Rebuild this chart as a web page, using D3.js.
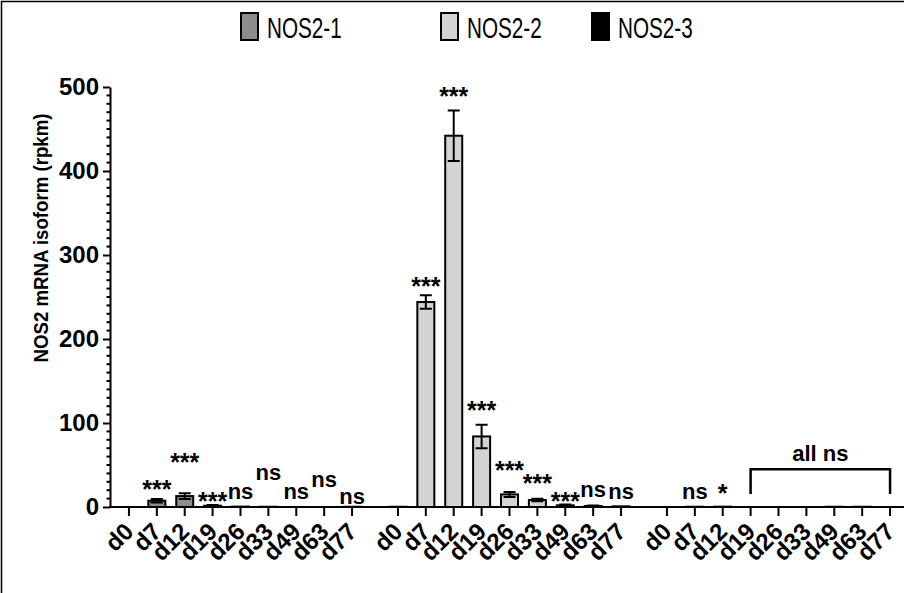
<!DOCTYPE html>
<html><head><meta charset="utf-8">
<script src="https://cdn.jsdelivr.net/npm/d3@7"></script>
<style>
body{margin:0;background:#fff;}
svg{display:block;font-family:"Liberation Sans",Arial,sans-serif;}
</style></head>
<body><svg id="c" width="904" height="593"></svg>
<script>
const groups = ["NOS2-1","NOS2-2","NOS2-3"];
const days = ["d0","d7","d12","d19","d26","d33","d49","d63","d77"];
const yTicks = [0,100,200,300,400,500];
const nos21 = [0, 7.5, 13, 1.5, 0.5, 0.3, 0, 0, 0.3];
const nos21Err = [0, 2, 3.5, 1, 0.3, 0.2, 0, 0, 0.2];
const nos22 = [0.3, 244, 442, 84, 15, 8.3, 2, 1.2, 0.8];
const nos22Err = [0.2, 8, 30, 14, 3, 1.5, 1, 0.6, 0.4];
const nos23 = [0, 0.3, 0.4, 0, 0, 0, 0.3, 0.3, 0];
const nos23Err = [0, 0, 0, 0, 0, 0, 0, 0, 0];
// significance labels and the value level where each label sits
const sig21 = ["", "***", "***", "***", "ns", "ns", "ns", "ns", "ns"];
const sig21Lvl = [0, 10.7, 42.9, -3.2, 9.5, 32, 9.5, 23.8, 3.6];
const sig22 = ["", "***", "***", "***", "***", "***", "***", "ns", "ns"];
const sig22Lvl = [0, 252, 479, 105, 33, 17.9, -3.2, 11.9, 9.5];
const sig23 = ["", "ns", "*", "", "", "", "", "", ""];
const sig23Lvl = [0, 9.5, 6, 0, 0, 0, 0, 0, 0];
const bracketLabel = "all ns";
const bracketFrom = "d19", bracketTo = "d77";
const bracketLvl = [45, 15.5, 54.8]; // bar, leg end, label

const values = [nos21, nos22, nos23];
const errs = [nos21Err, nos22Err, nos23Err];
const sigs = [sig21, sig22, sig23];
const sigLvls = [sig21Lvl, sig22Lvl, sig23Lvl];
const fills = ["#8c8c8c", "#d4d4d4", "#000000"];

const svg = d3.select("#c");
svg.append("path").attr("d","M1.5,593V1.5H904").attr("fill","none").attr("stroke","#000").attr("stroke-width",1.5);

const y = d3.scaleLinear().domain([0,500]).range([507,87]);
const x0 = d3.scaleBand().domain(groups).range([115,904]).paddingInner(18/269);
const x1 = d3.scaleBand().domain(days).range([0, x0.bandwidth()]);
const cx = (g,d) => x0(g) + x1(d) + x1.bandwidth()/2;
const bw = 17;

const data = [];
groups.forEach((g,gi)=>days.forEach((d,di)=>data.push({g,gi,d,di,v:values[gi][di],e:errs[gi][di],s:sigs[gi][di],sl:sigLvls[gi][di]})));

// bars
svg.append("g").selectAll("rect").data(data.filter(o=>o.v>0)).join("rect")
  .attr("x",o=>cx(o.g,o.d)-bw/2).attr("width",bw)
  .attr("y",o=>y(o.v)).attr("height",o=>y(0)-y(o.v))
  .attr("fill",o=>fills[o.gi]).attr("stroke","#000").attr("stroke-width",2);

// error bars
const eg = svg.append("g").attr("stroke","#000").attr("stroke-width",2).attr("fill","none");
data.filter(o=>o.e>0.5).forEach(o=>{
  const X = cx(o.g,o.d);
  eg.append("path").attr("d",`M${X},${y(o.v-o.e)}V${y(o.v+o.e)}M${X-6},${y(o.v+o.e)}H${X+6}M${X-6},${y(o.v-o.e)}H${X+6}`);
});

// y axis
const yAxis = d3.axisLeft(y).tickValues(yTicks).tickSize(7).tickSizeOuter(0).tickPadding(4);
const ya = svg.append("g").attr("transform","translate(110,0)").call(yAxis);
ya.select(".domain").attr("stroke-width",2);
ya.selectAll(".tick line").attr("stroke-width",2);
ya.selectAll("text").attr("font-size",24).attr("font-weight","bold").attr("fill","#000");
const minor = d3.range(0,501,10).filter(v=>v%100!==0);
svg.append("g").selectAll("line").data(minor).join("line")
  .attr("x1",106.5).attr("x2",110).attr("y1",v=>y(v)).attr("y2",v=>y(v))
  .attr("stroke","#000").attr("stroke-width",2);

// x axis
svg.append("line").attr("x1",109).attr("x2",904).attr("y1",y(0)).attr("y2",y(0)).attr("stroke","#000").attr("stroke-width",2);
svg.append("g").selectAll("line").data(data).join("line")
  .attr("x1",o=>cx(o.g,o.d)).attr("x2",o=>cx(o.g,o.d)).attr("y1",y(0)).attr("y2",y(0)+9)
  .attr("stroke","#000").attr("stroke-width",2);
const xl = svg.append("g").selectAll("g").data(data).join("g")
  .attr("transform",o=>"translate(" + (cx(o.g,o.d)+6).toFixed(1) + "," + (y(0)+26) + ")");
xl.append("text").attr("transform","rotate(-45)")
  .attr("text-anchor","end")
  .attr("font-size",24).attr("font-weight","bold").text(o=>o.d);

// y title
const yt = svg.append("text").attr("text-anchor","middle")
  .attr("font-size",20).attr("font-weight","bold").text("NOS2 mRNA isoform (rpkm)");
const ytl = yt.node().getComputedTextLength();
const k = ytl > 0 ? 249/ytl : 1;
yt.attr("transform",`translate(47.5,238) rotate(-90) scale(${k},1)`);

// significance
svg.append("g").selectAll("text").data(data.filter(o=>o.s)).join("text")
  .attr("x",o=>cx(o.g,o.d)).attr("y",o=>y(o.sl)).attr("text-anchor","middle")
  .attr("font-weight","bold").attr("font-size",o=>o.s.includes("*")?25:22).text(o=>o.s);

// bracket
const bx1 = cx(groups[2],bracketFrom), bx2 = cx(groups[2],bracketTo);
svg.append("path").attr("d",`M${bx1},${y(bracketLvl[1])}V${y(bracketLvl[0])}H${bx2}V${y(bracketLvl[1])}`)
  .attr("fill","none").attr("stroke","#000").attr("stroke-width",2.5);
svg.append("text").attr("x",(bx1+bx2)/2).attr("y",y(bracketLvl[2])).attr("text-anchor","middle")
  .attr("font-size",22).attr("font-weight","bold").text(bracketLabel);

// legend
const legX = [241, 441, 592];
const lg = svg.append("g");
groups.forEach((g,i)=>{
  lg.append("rect").attr("x",legX[i]).attr("y",13).attr("width",17).attr("height",27)
    .attr("fill",fills[i]).attr("stroke","#000").attr("stroke-width",2);
  lg.append("text").attr("transform",`translate(${legX[i]+26},37.5) scale(0.69,1)`)
    .attr("font-size",30).text(g);
});
</script></body></html>
